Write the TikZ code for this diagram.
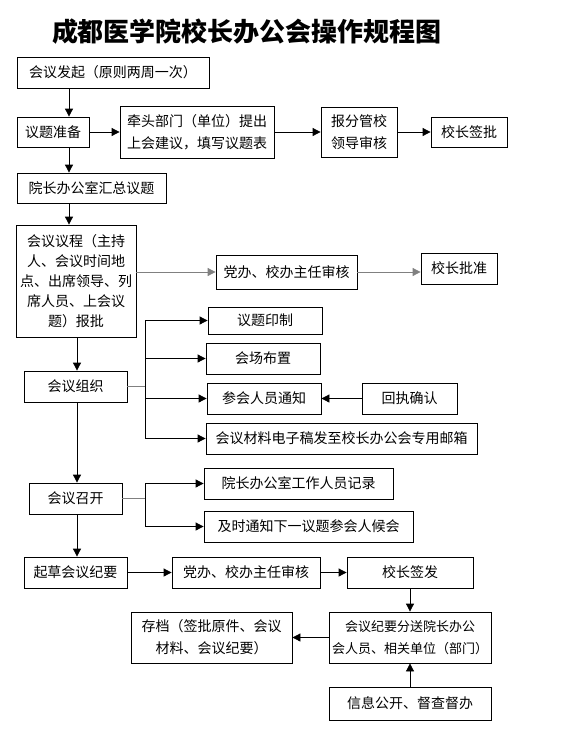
\documentclass[tikz,border=0pt]{standalone}
\usepackage{fontspec}
\setmainfont{Noto Sans CJK SC}
\usetikzlibrary{arrows.meta}
\tikzset{
	box/.style={draw, line width=0.8pt, inner sep=0pt, align=center, font=\fontsize{14}{22}\selectfont},
	arr/.style={line width=0.8pt, -{Triangle[length=8pt,width=8pt]}},
	link/.style={line width=0.8pt},
}
\begin{document}
\begin{tikzpicture}[x=1pt, y=-1pt]
		\useasboundingbox (0,0) rectangle (563,737);
		\node[font=\fontsize{26}{28}\selectfont\bfseries] (title) at (247,32) {成都医学院校长办公会操作规程图};

		% top part
		\node[box, minimum width=192, minimum height=31] (faqi) at (113,72.5) {会议发起（原则两周一次）};
		\node[box, minimum width=72, minimum height=30] (zhunbei) at (53,132) {议题准备};
		\node[box, minimum width=154, minimum height=52] (qiantou) at (197,132) {牵头部门（单位）提出\\上会建议，填写议题表};
		\node[box, minimum width=76, minimum height=50] (baofen) at (359,132) {报分管校\\领导审核};
		\node[box, minimum width=76, minimum height=30] (qianpi) at (469,132) {校长签批};
		\node[box, minimum width=149, minimum height=30] (huizong) at (91.5,188) {院长办公室汇总议题};
		\coordinate (colA) at (69,0);
		\draw[arr] (faqi.south -| colA) -- (zhunbei.north -| colA);
		\draw[arr] (zhunbei.south -| colA) -- (huizong.north -| colA);
		\draw[arr] (zhunbei) -- (qiantou);
		\draw[arr] (qiantou) -- (baofen);
		\draw[arr] (baofen) -- (qianpi);

		% agenda
		\node[box, minimum width=120, minimum height=112, font=\fontsize{14}{20}\selectfont] (yicheng) at (76,281) {会议议程（主持\\人、会议时间地\\点、出席领导、列\\席人员、上会议\\题）报批};
		\node[box, minimum width=141, minimum height=34] (shenhe1) at (286.5,272) {党办、校办主任审核};
		\node[box, minimum width=76, minimum height=31] (pizhun) at (459,268.5) {校长批准};
		\draw[arr] (huizong.south -| colA) -- (yicheng.north -| colA);
		\draw[arr, gray] (yicheng.east |- shenhe1.west) -- (shenhe1.west);
		\draw[arr, gray] (shenhe1.east) -- (shenhe1.east -| pizhun.west);

		% organisation
		\node[box, minimum width=103, minimum height=31] (zuzhi) at (75.5,386.5) {会议组织};
		\node[box, minimum width=114, minimum height=27] (yinzhi) at (265,320.5) {议题印制};
		\node[box, minimum width=114, minimum height=31] (buzhi) at (263,358.5) {会场布置};
		\node[box, minimum width=114, minimum height=31] (tongzhi) at (264,398.5) {参会人员通知};
		\node[box, minimum width=95, minimum height=31] (huizhi) at (409.5,398.5) {回执确认};
		\node[box, minimum width=271, minimum height=31] (youxiang) at (341.5,438.5) {会议材料电子稿发至校长办公会专用邮箱};
		\coordinate (colB) at (77,0);
		\coordinate (busA) at (145,386.5);
		\draw[arr] (yicheng.south -| colB) -- (zuzhi.north -| colB);
		\draw[link, gray] (zuzhi.east) -- (busA);
		\draw[link] (yinzhi.west -| busA) -- (youxiang.west -| busA);
		\foreach \n in {yinzhi, buzhi, tongzhi, youxiang}
			\draw[arr] (\n.west -| busA) -- (\n.west);
		\draw[arr] (huizhi) -- (tongzhi);

		% meeting
		\node[box, minimum width=93, minimum height=31] (zhaokai) at (75.5,498.5) {会议召开};
		\node[box, minimum width=189, minimum height=31] (jilu) at (298.5,483.5) {院长办公室工作人员记录};
		\node[box, minimum width=209, minimum height=31] (houhui) at (308.5,526.5) {及时通知下一议题参会人候会};
		\coordinate (busB) at (145,498.5);
		\draw[arr] (zuzhi.south -| colB) -- (zhaokai.north -| colB);
		\draw[link, gray] (zhaokai.east) -- (busB);
		\draw[link] (jilu.west -| busB) -- (houhui.west -| busB);
		\draw[arr] (jilu.west -| busB) -- (jilu.west);
		\draw[arr] (houhui.west -| busB) -- (houhui.west);

		% minutes
		\node[box, minimum width=103, minimum height=31] (qicao) at (75.5,572.5) {起草会议纪要};
		\node[box, minimum width=148, minimum height=31] (shenhe2) at (246,572.5) {党办、校办主任审核};
		\node[box, minimum width=126, minimum height=31] (qianfa) at (410,572.5) {校长签发};
		\node[box, minimum width=162, minimum height=51, font=\fontsize{13}{22}\selectfont] (fensong) at (410,637.5) {会议纪要分送院长办公\\会人员、相关单位（部门）};
		\node[box, minimum width=161, minimum height=51] (cundang) at (211.5,637.5) {存档（签批原件、会议\\材料、会议纪要）};
		\node[box, minimum width=162, minimum height=33] (gongkai) at (410,703.5) {信息公开、督查督办};
		\draw[arr] (zhaokai.south -| colB) -- (qicao.north -| colB);
		\draw[arr] (qicao) -- (shenhe2);
		\draw[arr] (shenhe2) -- (qianfa);
		\draw[arr] (qianfa) -- (fensong);
		\draw[arr] (fensong) -- (cundang);
		\draw[arr] (gongkai) -- (fensong);
	\end{tikzpicture}
\end{document}
